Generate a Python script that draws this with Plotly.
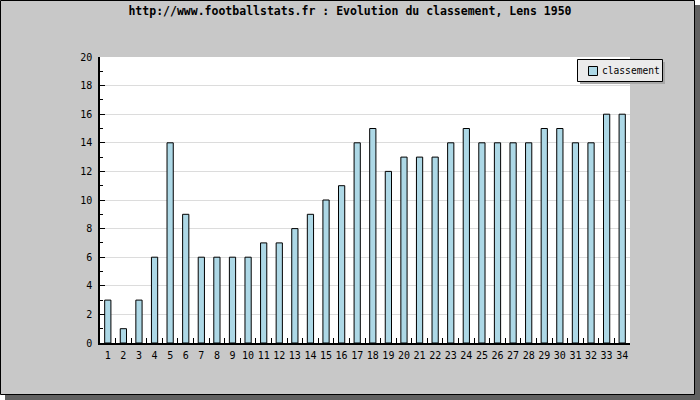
import plotly.graph_objects as go

journees = [str(i) for i in range(1, 35)]
classement = [3, 1, 3, 6, 14, 9, 6, 6, 6, 6, 7, 7, 8, 9, 10, 11, 14, 15, 12, 13,
              13, 13, 14, 15, 14, 14, 14, 14, 15, 15, 14, 14, 16, 16]
y_ticks = list(range(0, 21, 2))
title_text = "http://www.footballstats.fr : Evolution du classement, Lens 1950"
series_name = "classement"

W, H = 700, 400
L, R, T, B = 100, 630, 57, 343


def xp(px):
    return (px - L) / (R - L)


def yp(py):
    return (B - py) / (B - T)


def rect(x0, y0, x1, y1, fill, line=None, width=1, layer="below"):
    return dict(type="rect", xref="paper", yref="paper",
                x0=xp(x0), x1=xp(x1), y0=yp(y1), y1=yp(y0),
                fillcolor=fill,
                line=dict(color=line or fill, width=width if line else 0),
                layer=layer)


mono = "DejaVu Sans Mono"

fig = go.Figure(go.Bar(
    x=journees, y=classement, name=series_name, width=0.4,
    marker=dict(color="#add8e6", line=dict(color="black", width=1)),
    showlegend=False, hoverinfo="x+y",
))

shapes = [
    rect(5, 5, 700, 400, "#606060"),
    rect(0.5, 0.5, 694.5, 394.5, "#c8c8c8", line="black", width=1),
    rect(L, T, R, B, "white"),
    rect(580, 62, 665, 84, "#a8a8a8", layer="above"),
    rect(577.5, 59.5, 662.5, 81.5, "#ebebeb", line="black", width=1, layer="above"),
    rect(588.5, 66.5, 597.5, 75.5, "#add8e6", line="black", width=1, layer="above"),
]

fig.update_layout(
    width=W, height=H,
    margin=dict(l=L, r=W - R, t=T, b=H - B, autoexpand=False),
    paper_bgcolor="white", plot_bgcolor="white",
    title=dict(text="<b>" + title_text + "</b>", x=0.5, xref="container",
               xanchor="center", y=1 - 11 / H, yref="container", yanchor="middle",
               font=dict(family=mono, size=11.5, color="black")),
    shapes=shapes,
    annotations=[dict(text=series_name, xref="paper", yref="paper",
                      x=xp(599.5), y=yp(70.5), xanchor="left", yanchor="middle",
                      showarrow=False, font=dict(family=mono, size=9.6, color="black"))],
    xaxis=dict(type="category", range=[-0.5, 33.5], tickson="boundaries",
               ticks="inside", ticklen=5, tickcolor="black", tickwidth=1,
               tickangle=0, automargin=False, ticklabelstandoff=2,
               showline=True, linecolor="black", linewidth=1.5,
               showgrid=False, zeroline=False,
               tickfont=dict(family=mono, size=10, color="black")),
    yaxis=dict(range=[0, 20], tickvals=y_ticks, ticks="inside", ticklen=5,
               tickcolor="black", tickwidth=1, ticklabelstandoff=4, automargin=False,
               minor=dict(dtick=1, ticks="inside", ticklen=3, tickcolor="black", showgrid=False),
               showline=True, linecolor="black", linewidth=1.5,
               showgrid=True, gridcolor="#dcdcdc", gridwidth=1, zeroline=False,
               tickfont=dict(family=mono, size=10, color="black")),
)

fig.write_html("out.html", config={"displayModeBar": False},
               post_script="document.body.style.margin='0';")
